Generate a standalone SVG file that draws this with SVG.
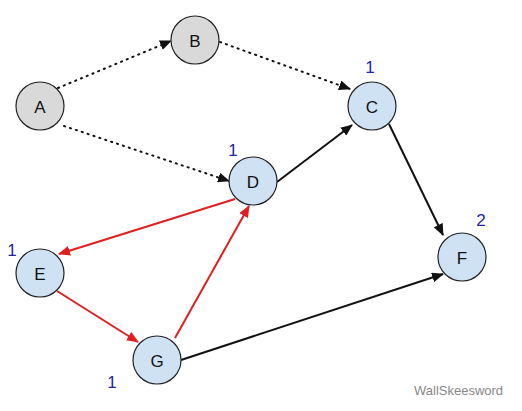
<svg xmlns="http://www.w3.org/2000/svg" width="522" height="411" viewBox="0 0 522 411">
<style>
.n circle{stroke:#222;stroke-width:1.2}
.g{fill:#d9d9d9}
.b{fill:#cfe2f3}
.n text{font-family:"Liberation Sans",Arial,sans-serif;font-size:17px;fill:#111;text-anchor:middle;dominant-baseline:central}
.num{font-family:"Liberation Sans",Arial,sans-serif;font-size:17px;fill:#2424a0;text-anchor:middle}
.dot{stroke:#111;stroke-width:2;stroke-dasharray:1.2 5;stroke-linecap:round;fill:none}
.blk{stroke:#111;stroke-width:2;fill:none}
.red{stroke:#e02020;stroke-width:2;fill:none}
.wm{font-family:"Liberation Sans",Arial,sans-serif;font-size:13px;fill:#888}
</style>
<defs>
<marker id="ak" markerWidth="12" markerHeight="10" refX="11" refY="5" orient="auto" markerUnits="userSpaceOnUse"><path d="M0,0 L12,5 L0,10 Z" fill="#111"/></marker>
<marker id="ar" markerWidth="12" markerHeight="10" refX="11" refY="5" orient="auto" markerUnits="userSpaceOnUse"><path d="M0,0 L12,5 L0,10 Z" fill="#e02020"/></marker>
</defs>
<rect width="522" height="411" fill="#fff"/>
<g id="edges">
<line class="dot" x1="58" y1="88" x2="171" y2="41" marker-end="url(#ak)"/>
<line class="dot" x1="220" y1="42" x2="350" y2="89" marker-end="url(#ak)"/>
<line class="dot" x1="64" y1="126" x2="229" y2="181" marker-end="url(#ak)"/>
<line class="blk" x1="277" y1="182" x2="352" y2="125" marker-end="url(#ak)"/>
<line class="blk" x1="389" y1="124" x2="443" y2="235" marker-end="url(#ak)"/>
<line class="blk" x1="181" y1="360" x2="443" y2="274" marker-end="url(#ak)"/>
<line class="red" x1="235" y1="199" x2="59" y2="254" marker-end="url(#ar)"/>
<line class="red" x1="57" y1="291" x2="138" y2="342" marker-end="url(#ar)"/>
<line class="red" x1="175" y1="338" x2="249" y2="206" marker-end="url(#ar)"/>
</g>
<g id="A" class="n"><circle class="g" cx="40" cy="106" r="24"/><text x="40" y="107">A</text></g>
<g id="B" class="n"><circle class="g" cx="195" cy="40" r="24"/><text x="195" y="41">B</text></g>
<g id="C" class="n"><circle class="b" cx="372" cy="106" r="24"/><text x="372" y="107">C</text></g>
<g id="D" class="n"><circle class="b" cx="253" cy="181" r="24"/><text x="253" y="182">D</text></g>
<g id="E" class="n"><circle class="b" cx="40" cy="273" r="24"/><text x="40" y="274">E</text></g>
<g id="F" class="n"><circle class="b" cx="462" cy="257" r="24"/><text x="462" y="258">F</text></g>
<g id="G" class="n"><circle class="b" cx="157" cy="360" r="24"/><text x="157" y="361">G</text></g>
<g id="labels">
<text class="num" x="370" y="73">1</text>
<text class="num" x="233" y="156">1</text>
<text class="num" x="12" y="256">1</text>
<text class="num" x="112" y="388">1</text>
<text class="num" x="481" y="226">2</text>
</g>
<text class="wm" x="414" y="395">WallSkeesword</text>
</svg>
